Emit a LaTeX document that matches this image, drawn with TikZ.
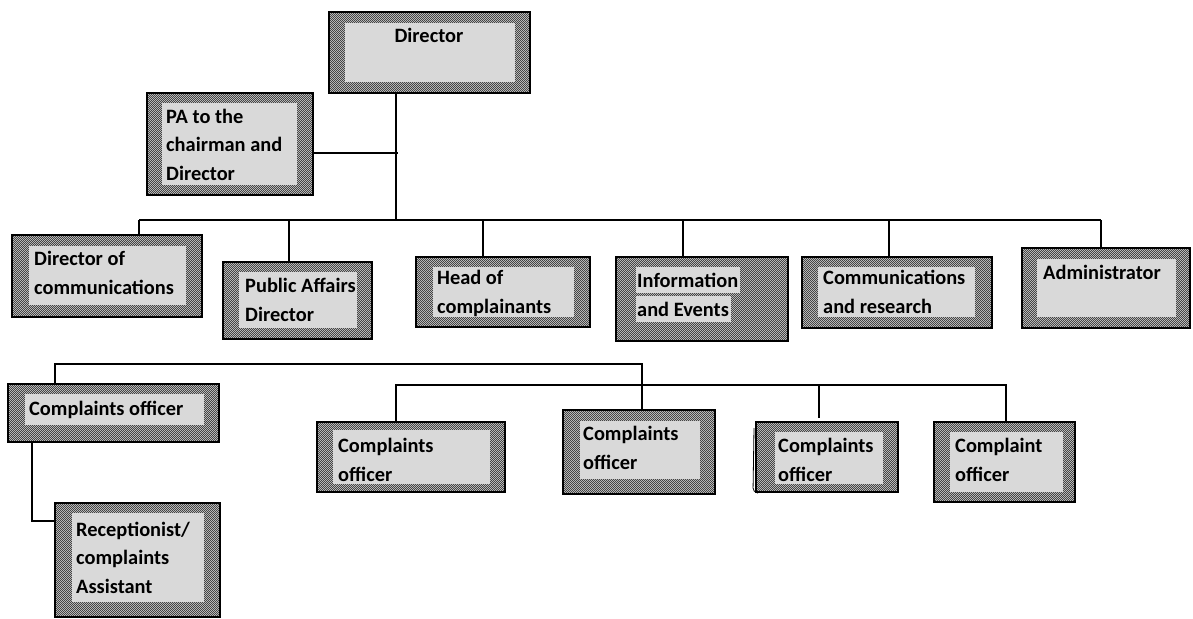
\documentclass[tikz,border=0pt]{standalone}
\usepackage{fontspec}
\setmainfont{Carlito}
\usetikzlibrary{fit,patterns}
\definecolor{checkbg}{HTML}{C8C8C8}
\definecolor{checkfg}{HTML}{454545}
\definecolor{innerfill}{HTML}{D9D9D9}
\pgfdeclarepatternformonly{finechecker}{\pgfpointorigin}{\pgfqpoint{2.4pt}{2.4pt}}{\pgfqpoint{2.4pt}{2.4pt}}{%
  \pgfpathrectangle{\pgfpointorigin}{\pgfqpoint{1.2pt}{1.2pt}}%
  \pgfpathrectangle{\pgfqpoint{1.2pt}{1.2pt}}{\pgfqpoint{1.2pt}{1.2pt}}%
  \pgfusepath{fill}}
\tikzset{
  outerbox/.style={draw=black, line width=1.6pt, preaction={fill=checkbg}, pattern=finechecker, pattern color=checkfg, inner sep=0pt},
  innerbox/.style={fill=innerfill},
  % text nodes sit on the baseline of their last line
  boxtext/.style={anchor=base west, inner sep=0pt, align=left, font=\bfseries\fontsize{20.4}{28.5}\selectfont},
  link/.style={draw=black, line width=1.3pt}
}

\begin{document}
\begin{tikzpicture}[x=1pt, y=-1pt]
		\useasboundingbox (0,0) rectangle (1193,618);
		
		%%%%% TOP %%%%%
		\node[outerbox, fit={(329,12) (530,93)}] (dir) {};
		\fill[innerbox] (345,23) rectangle (515,82);
		\node[boxtext, anchor=base] at (429,43) {Director};
		
		\node[outerbox, fit={(147,93) (313,195)}] (pa) {};
		\fill[innerbox] (162,103) rectangle (297,185);
		\node[boxtext] at (166,180) {PA to the\\chairman and\\Director};
		
		%%%%% SECOND ROW %%%%%
		\node[outerbox, fit={(12,235) (202,317)}] (doc) {};
		\fill[innerbox] (29,246) rectangle (186,305);
		\node[boxtext] at (34,294) {Director of\\communications};
		
		\node[outerbox, fit={(223,262) (372,339)}] (pad) {};
		\fill[innerbox] (239,272) rectangle (357,328);
		\node[boxtext] at (245,321) {Public Affairs\\Director};
		
		\node[outerbox, fit={(416,257) (590,327)}] (head) {};
		\fill[innerbox] (433,267) rectangle (574,317);
		\node[boxtext] at (437,313) {Head of\\complainants};
		
		\node[outerbox, fit={(616,257) (788,341)}] (info) {};
		\fill[innerbox] (636,267) rectangle (740,293);
		\fill[innerbox] (636,296) rectangle (731,322);
		\node[boxtext] at (637,316) {Information\\and Events};
		
		\node[outerbox, fit={(802,257) (992,328)}] (comres) {};
		\fill[innerbox] (818,267) rectangle (975,317);
		\node[boxtext] at (823,313) {Communications\\and research};
		
		\node[outerbox, fit={(1022,248) (1190,328)}] (admin) {};
		\fill[innerbox] (1037,259) rectangle (1176,317);
		\node[boxtext] at (1043,279) {Administrator};
		
		%%%%% COMPLAINTS %%%%%
		\node[outerbox, fit={(8,384) (219,442)}] (colead) {};
		\fill[innerbox] (25,394) rectangle (204,425);
		\node[boxtext] at (29,415) {Complaints officer};
		
		\node[outerbox, fit={(55,503) (220,617)}] (recep) {};
		\fill[innerbox] (72,513) rectangle (204,602);
		\node[boxtext] at (76,593) {Receptionist/\\complaints\\Assistant};
		
		\node[outerbox, fit={(317,422) (505,492)}] (co1) {};
		\fill[innerbox] (333,430) rectangle (490,484);
		\node[boxtext] at (338,481) {Complaints\\officer};
		
		\node[outerbox, fit={(563,410) (715,494)}] (co2) {};
		\fill[innerbox] (580,421) rectangle (700,479);
		\node[boxtext] at (583,469) {Complaints\\officer};
		
		\node[outerbox, fit={(756,422) (898,492)}] (co3) {};
		\fill[innerbox] (775,432) rectangle (883,484);
		\node[boxtext] at (778,481) {Complaints\\officer};
		\draw[line width=0.8pt, rounded corners=4pt] (754,428) -- (753,492) -- (758,493);
		
		\node[outerbox, fit={(934,422) (1075,502)}] (co4) {};
		\fill[innerbox] (950,432) rectangle (1063,492);
		\node[boxtext] at (955,481) {Complaint\\officer};
		
		%%%%% CONNECTORS %%%%%
		\coordinate (trunk) at (396,220);
		\coordinate (paj) at (398,153);
		\draw[link] (dir.south -| trunk) -- (trunk);
		\draw[link] (pa.east |- paj) -- (paj);
		
		\coordinate (busL) at (139,220);
		\coordinate (busR) at (1101,220);
		\draw[link] (busL) -- (busR);
		\foreach \n/\x in {doc/139, pad/289, head/483, info/683, comres/889, admin/1101}{
			\coordinate (drop) at (\x,220);
			\draw[link] (drop) -- (\n.north -| drop);
		}
		
		\coordinate (lowL) at (55,364);
		\coordinate (lowR) at (642,364);
		\draw[link] (colead.north -| lowL) -- (lowL) -- (lowR) -- (co2.north -| lowR);
		
		\coordinate (midL) at (396,385);
		\coordinate (midR) at (1006,385);
		\coordinate (midC) at (819,385);
		\coordinate (co3stub) at (819,418);
		\draw[link] (co1.north -| midL) -- (midL) -- (midR) -- (co4.north -| midR);
		\draw[link] (midC) -- (co3stub);
		
		\coordinate (recj) at (32,521);
		\draw[link] (colead.south -| recj) -- (recj) -- (recep.west |- recj);
	\end{tikzpicture}
\end{document}
